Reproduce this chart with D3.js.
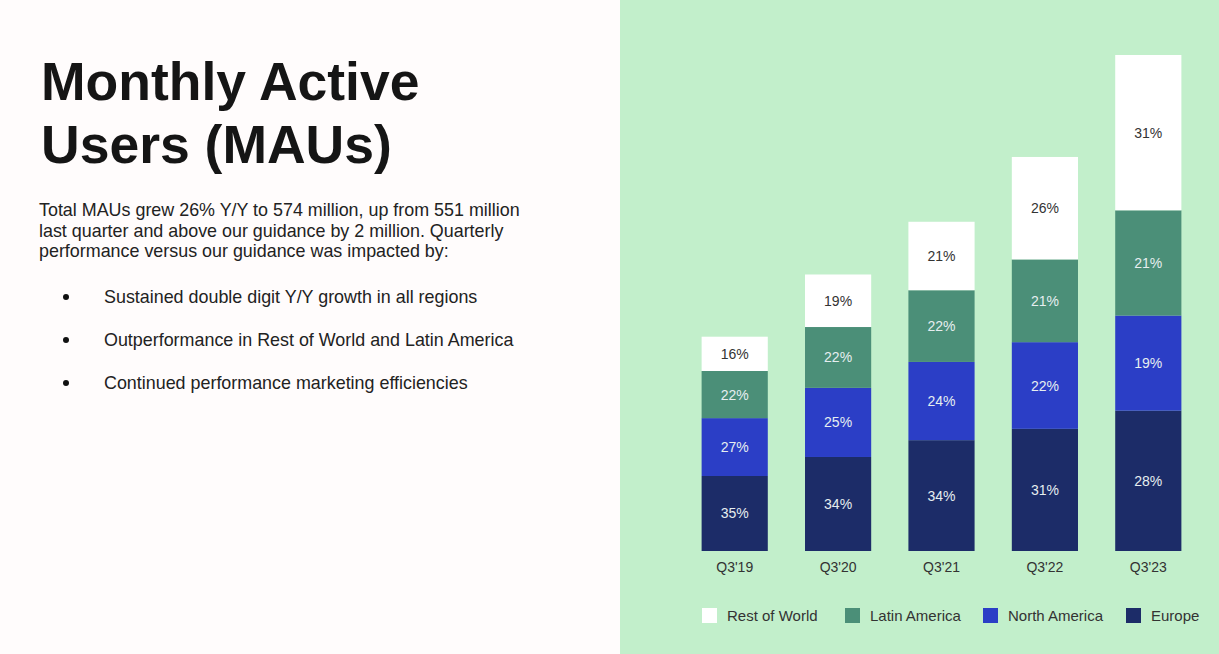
<!DOCTYPE html>
<html>
<head>
<meta charset="utf-8">
<script src="https://cdn.jsdelivr.net/npm/d3@7"></script>
<style>
  body { margin: 0; background: #fffcfc; }
  svg { display: block; font-family: "Liberation Sans", Arial, sans-serif; }
</style>
</head>
<body>
<div id="chart"></div>
<script>
// data
var quarters = ["Q3'19", "Q3'20", "Q3'21", "Q3'22", "Q3'23"];
var totalMAUs = [248, 320, 381, 456, 574]; // millions
var regions = ["Europe", "North America", "Latin America", "Rest of World"];
var europePct = [35, 34, 34, 31, 28];
var northAmericaPct = [27, 25, 24, 22, 19];
var latinAmericaPct = [22, 22, 22, 21, 21];
var restOfWorldPct = [16, 19, 21, 26, 31];
var legendOrder = ["Rest of World", "Latin America", "North America", "Europe"];

var svgWidth = 1219;
var svgHeight = 654;

var colors = {
    "Europe": "#1c2c68",
    "North America": "#2b3ec6",
    "Latin America": "#4b8f78",
    "Rest of World": "#ffffff"
};

var svg = d3.select("#chart")
    .append("svg")
    .attr("width", svgWidth)
    .attr("height", svgHeight);

// left text block
svg.append("rect")
    .attr("width", 620)
    .attr("height", svgHeight)
    .attr("fill", "#fffcfc");

var title = svg.append("text")
    .attr("fill", "#151515")
    .style("font-size", "53.5px")
    .style("font-weight", "bold");
title.append("tspan").attr("x", 41).attr("y", 100).text("Monthly Active");
title.append("tspan").attr("x", 41).attr("y", 163).text("Users (MAUs)");

var paraLines = [
    "Total MAUs grew 26% Y/Y to 574 million, up from 551 million",
    "last quarter and above our guidance by 2 million. Quarterly",
    "performance versus our guidance was impacted by:"
];
svg.append("g").selectAll("text")
    .data(paraLines)
    .enter()
    .append("text")
    .attr("x", 39)
    .attr("y", (d, i) => 216 + i * 20.5)
    .attr("fill", "#222")
    .style("font-size", "17.9px")
    .text(d => d);

var bullets = [
    "Sustained double digit Y/Y growth in all regions",
    "Outperformance in Rest of World and Latin America",
    "Continued performance marketing efficiencies"
];
var bulletGroup = svg.append("g");
bulletGroup.selectAll("circle")
    .data(bullets)
    .enter()
    .append("circle")
    .attr("cx", 66)
    .attr("cy", (d, i) => 297 + i * 43)
    .attr("r", 3)
    .attr("fill", "#111");
bulletGroup.selectAll("text")
    .data(bullets)
    .enter()
    .append("text")
    .attr("x", 104)
    .attr("y", (d, i) => 303 + i * 43)
    .attr("fill", "#222")
    .style("font-size", "17.9px")
    .text(d => d);

// green panel
svg.append("rect")
    .attr("x", 620)
    .attr("width", svgWidth - 620)
    .attr("height", svgHeight)
    .attr("fill", "#c2efcb");

// build stacked rows (shares normalised so each bar reaches its total)
var pctByRegion = {
    "Europe": europePct,
    "North America": northAmericaPct,
    "Latin America": latinAmericaPct,
    "Rest of World": restOfWorldPct
};
var rows = quarters.map(function(q, i) {
    var row = { quarter: q, total: totalMAUs[i] };
    var pctSum = d3.sum(regions, r => pctByRegion[r][i]);
    regions.forEach(function(r) {
        row[r] = totalMAUs[i] * pctByRegion[r][i] / pctSum;
        row[r + "_pct"] = pctByRegion[r][i];
    });
    return row;
});

var x = d3.scaleBand()
    .domain(quarters)
    .range([683, 1200])
    .paddingInner(0.36)
    .paddingOuter(0.18);

var y = d3.scaleLinear()
    .domain([0, 574])
    .range([551, 55]);

var stack = d3.stack().keys(regions);
var series = stack(rows);

var chartGroup = svg.append("g");

var layers = chartGroup.selectAll("g.layer")
    .data(series)
    .enter()
    .append("g")
    .classed("layer", true)
    .attr("fill", d => colors[d.key]);

layers.selectAll("rect")
    .data(d => d)
    .enter()
    .append("rect")
    .attr("x", d => x(d.data.quarter))
    .attr("y", d => y(d[1]))
    .attr("width", x.bandwidth())
    .attr("height", d => y(d[0]) - y(d[1]));

// percentage labels
series.forEach(function(s) {
    chartGroup.append("g").selectAll("text")
        .data(s)
        .enter()
        .append("text")
        .attr("x", d => x(d.data.quarter) + x.bandwidth() / 2)
        .attr("y", d => (y(d[0]) + y(d[1])) / 2 + 5)
        .attr("text-anchor", "middle")
        .attr("fill", s.key === "Rest of World" ? "#333" : "#e6eef0")
        .style("font-size", "14px")
        .text(d => d.data[s.key + "_pct"] + "%");
});

// x axis labels
var xAxis = chartGroup.append("g")
    .attr("transform", "translate(0, 551)")
    .call(d3.axisBottom(x).tickSize(0).tickPadding(11));
xAxis.select(".domain").remove();
xAxis.selectAll("text")
    .attr("fill", "#333")
    .style("font-size", "14px")
    .style("font-family", "'Liberation Sans', Arial, sans-serif");

// legend
var legendX = [702, 845, 983, 1126];
var legend = svg.append("g").selectAll("g")
    .data(legendOrder)
    .enter()
    .append("g")
    .attr("transform", (d, i) => `translate(${legendX[i]}, 608)`);
legend.append("rect")
    .attr("width", 15)
    .attr("height", 15)
    .attr("fill", d => colors[d]);
legend.append("text")
    .attr("x", 25)
    .attr("y", 13)
    .attr("fill", "#333")
    .style("font-size", "15px")
    .text(d => d);
</script>
</body>
</html>
